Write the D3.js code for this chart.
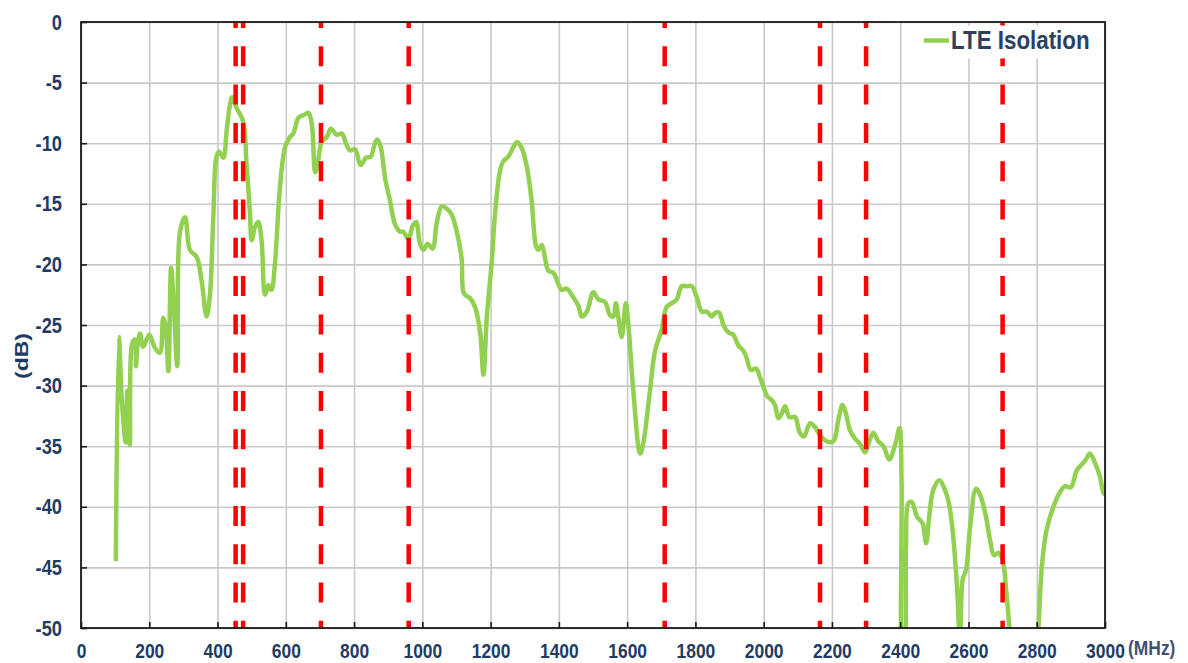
<!DOCTYPE html>
<html>
<head>
<meta charset="utf-8">
<script src="https://cdn.jsdelivr.net/npm/d3@7"></script>
<style>
body { margin: 0; background: #fff; }
text { font-family: "Liberation Sans", Arial, sans-serif; font-weight: bold; fill: #1f3b63; }
</style>
</head>
<body>
<svg id="chart" width="1188" height="663"></svg>
<script>
var freq = [102, 111, 119, 131, 136, 143, 150, 158, 161, 165, 173, 182, 200, 217, 231, 241, 248, 256, 264, 272,
    282, 290, 305, 319, 339, 353, 368, 378, 388, 397, 405, 417, 427, 436, 443, 456, 475, 485, 495, 500,
    510, 519, 529, 539, 549, 558, 568, 583, 598, 612, 622, 637, 651, 666, 676, 686, 695, 705, 720, 732,
    749, 764, 776, 788, 803, 819, 835, 849, 861, 868, 878, 891, 905, 920, 935, 944, 959, 972, 982, 993,
    1003, 1016, 1030, 1042, 1057, 1072, 1086, 1101, 1115, 1122, 1140, 1154, 1169, 1179, 1189, 1203, 1213, 1228, 1237, 1252,
    1267, 1278, 1291, 1306, 1320, 1333, 1340, 1350, 1359, 1369, 1384, 1408, 1423, 1442, 1457, 1467, 1482, 1501, 1516, 1535,
    1550, 1560, 1567, 1574, 1584, 1596, 1604, 1618, 1638, 1647, 1667, 1682, 1701, 1716, 1731, 1745, 1760, 1775, 1789, 1804,
    1819, 1833, 1848, 1858, 1870, 1882, 1896, 1911, 1926, 1940, 1950, 1962, 1978, 1989, 1999, 2011, 2024, 2033, 2043, 2053,
    2063, 2075, 2092, 2106, 2118, 2136, 2150, 2165, 2185, 2204, 2219, 2231, 2240, 2253, 2268, 2282, 2297, 2307, 2321, 2336,
    2351, 2368, 2385, 2398, 2404, 2408, 2411, 2417, 2424, 2434, 2449, 2458, 2466, 2476, 2485, 2497, 2515, 2531, 2544, 2556,
    2568, 2575, 2583, 2593, 2605, 2622, 2634, 2649, 2663, 2675, 2688, 2700, 2712, 2720, 2735, 2760, 2790, 2805, 2815, 2829,
    2849, 2868, 2883, 2900, 2917, 2932, 2944, 2956, 2971, 2985, 2995, 3000];
var isolation = [-44.5, -26.0, -30.9, -34.7, -30.4, -34.9, -26.5, -26.2, -28.4, -26.8, -25.7, -26.8, -25.8, -26.9, -27.3, -24.4, -25.1, -28.8, -20.3, -23.5,
    -28.4, -17.3, -16.1, -18.8, -19.4, -21.3, -24.3, -22.4, -15.8, -11.1, -10.7, -11.2, -8.9, -6.9, -6.2, -7.1, -8.2, -11.7, -15.8, -18.0,
    -16.9, -16.5, -18.0, -22.5, -21.7, -22.1, -20.0, -13.6, -10.3, -9.5, -9.2, -7.9, -7.7, -7.5, -8.4, -12.4, -11.4, -9.9, -9.5, -8.8,
    -9.3, -9.2, -10.0, -10.6, -10.5, -11.8, -11.2, -11.1, -10.0, -9.7, -10.3, -12.9, -14.7, -16.7, -17.3, -17.3, -17.9, -16.8, -16.5, -18.3,
    -18.8, -18.3, -18.7, -16.6, -15.2, -15.4, -15.9, -17.3, -19.5, -22.4, -22.8, -23.5, -25.5, -29.1, -24.3, -19.9, -15.8, -12.2, -11.5, -11.1,
    -10.3, -9.9, -10.4, -11.9, -14.7, -18.5, -18.8, -18.4, -19.4, -20.5, -20.7, -22.1, -22.0, -22.7, -23.4, -24.3, -23.9, -22.3, -22.9, -23.1,
    -24.2, -24.3, -23.2, -24.3, -26.0, -23.2, -25.1, -30.4, -35.6, -34.8, -30.4, -27.1, -25.4, -23.5, -23.2, -22.9, -21.8, -21.8, -21.8, -22.7,
    -23.9, -23.9, -24.3, -24.0, -24.0, -25.0, -25.6, -25.8, -26.7, -27.1, -27.7, -28.7, -28.6, -29.3, -30.1, -30.9, -31.2, -31.6, -32.7, -32.3,
    -31.7, -32.6, -32.6, -33.9, -34.2, -33.1, -33.4, -34.1, -34.6, -34.6, -32.8, -31.6, -32.2, -33.7, -34.4, -34.8, -35.5, -34.8, -33.9, -34.6,
    -35.0, -36.1, -34.9, -33.5, -37.8, -53.0, -53.0, -43.3, -39.7, -39.6, -40.8, -41.1, -41.4, -43.0, -40.8, -38.6, -37.8, -38.6, -39.9, -42.7,
    -47.4, -51.5, -46.0, -45.2, -41.6, -38.5, -39.0, -40.5, -42.7, -44.0, -43.8, -44.4, -47.4, -50.0, -56.0, -60.0, -56.0, -50.0, -44.9, -41.9,
    -40.0, -38.8, -38.3, -38.4, -37.0, -36.5, -36.1, -35.6, -36.4, -37.5, -38.8, -39.0];
// LTE band edges marked with red dashes
var bandEdges = [453, 475, 703, 960, 1710, 2165, 2300, 2700];
var xTicks = [0, 200, 400, 600, 800, 1000, 1200, 1400, 1600, 1800, 2000, 2200, 2400, 2600, 2800, 3000];
var yTicks = [0, -5, -10, -15, -20, -25, -30, -35, -40, -45, -50];

var svg = d3.select("#chart");
var plotLeft = 81, plotTop = 22, w = 1024, h = 606;
var squeeze = 0.83;
var plain = function(d) { return String(d); };

var x = d3.scaleLinear().domain([0, 3000]).range([plotLeft, plotLeft + w]);
var y = d3.scaleLinear().domain([-50, 0]).range([plotTop + h, plotTop]);

// grid
svg.append("g")
    .attr("transform", "translate(0," + (plotTop + h) + ")")
    .call(d3.axisBottom(x).tickValues(xTicks).tickSize(-h).tickFormat(""))
    .call(function(g) {
        g.select(".domain").remove();
        g.selectAll("line").attr("stroke", "#c9c9c9").attr("stroke-width", 1.6);
    });
svg.append("g")
    .attr("transform", "translate(" + plotLeft + ",0)")
    .call(d3.axisLeft(y).tickValues(yTicks).tickSize(-w).tickFormat(""))
    .call(function(g) {
        g.select(".domain").remove();
        g.selectAll("line").attr("stroke", "#c9c9c9").attr("stroke-width", 1.6);
    });

svg.append("clipPath").attr("id", "plotclip")
    .append("rect").attr("x", plotLeft).attr("y", plotTop).attr("width", w).attr("height", h);

var pts = freq.map(function(f, i) { return [f, isolation[i]]; });
var line = d3.line()
    .x(function(d) { return x(d[0]); })
    .y(function(d) { return y(d[1]); })
    .curve(d3.curveCatmullRom.alpha(0.5));

svg.append("path")
    .datum(pts)
    .attr("clip-path", "url(#plotclip)")
    .attr("fill", "none")
    .attr("stroke", "#92d050")
    .attr("stroke-width", 4.5)
    .attr("stroke-linejoin", "round")
    .attr("d", line);

svg.selectAll("line.band")
    .data(bandEdges)
    .enter().append("line")
    .attr("class", "band")
    .attr("x1", function(d) { return x(d); })
    .attr("x2", function(d) { return x(d); })
    .attr("y1", plotTop)
    .attr("y2", plotTop + h)
    .attr("stroke", "#ff0000")
    .attr("stroke-width", 4.5)
    .attr("stroke-dasharray", "20,18.3")
    .attr("stroke-dashoffset", 14);

svg.append("rect")
    .attr("x", plotLeft).attr("y", plotTop).attr("width", w).attr("height", h)
    .attr("fill", "none").attr("stroke", "#1a1a1a").attr("stroke-width", 1.8);

// axes
var xAxis = svg.append("g")
    .attr("transform", "translate(0," + (plotTop + h) + ")")
    .call(d3.axisBottom(x).tickValues(xTicks).tickFormat(plain)
        .tickSizeInner(-6).tickSizeOuter(0).tickPadding(15));
xAxis.select(".domain").remove();
xAxis.selectAll("line").attr("stroke", "#1a1a1a").attr("stroke-width", 1.6);
xAxis.selectAll("text")
    .attr("fill", null)
    .style("font-size", "21px")
    .attr("transform", "scale(" + squeeze + ",1)")
    .attr("x", 0);

var yAxis = svg.append("g")
    .attr("transform", "translate(" + plotLeft + ",0)")
    .call(d3.axisLeft(y).tickValues(yTicks).tickFormat(plain)
        .tickSizeInner(-6).tickSizeOuter(0));
yAxis.select(".domain").remove();
yAxis.selectAll("line").attr("stroke", "#1a1a1a").attr("stroke-width", 1.6);
yAxis.selectAll("text")
    .attr("fill", null)
    .style("font-size", "22px")
    .attr("x", 0)
    .attr("transform", "translate(-19,0) scale(" + squeeze + ",1)");

svg.append("text")
    .attr("transform", "translate(28,356) rotate(-90) scale(1," + squeeze + ")")
    .attr("text-anchor", "middle")
    .style("font-size", "23px")
    .text("(dB)");

svg.append("text")
    .attr("transform", "translate(1128,655) scale(" + squeeze + ",1)")
    .style("font-size", "21px")
    .style("fill", "#3e5272")
    .text("(MHz)");

// legend
var legend = svg.append("g");
legend.append("rect")
    .attr("x", 912).attr("y", 25.5).attr("width", 190).attr("height", 33)
    .attr("fill", "#fff");
legend.append("line")
    .attr("x1", 924).attr("x2", 949).attr("y1", 40.5).attr("y2", 40.5)
    .attr("stroke", "#92d050").attr("stroke-width", 4.5);
legend.append("text")
    .attr("transform", "translate(951,49) scale(0.86,1)")
    .style("font-size", "26px")
    .style("fill", "#2b4162")
    .text("LTE Isolation");
</script>
</body>
</html>
